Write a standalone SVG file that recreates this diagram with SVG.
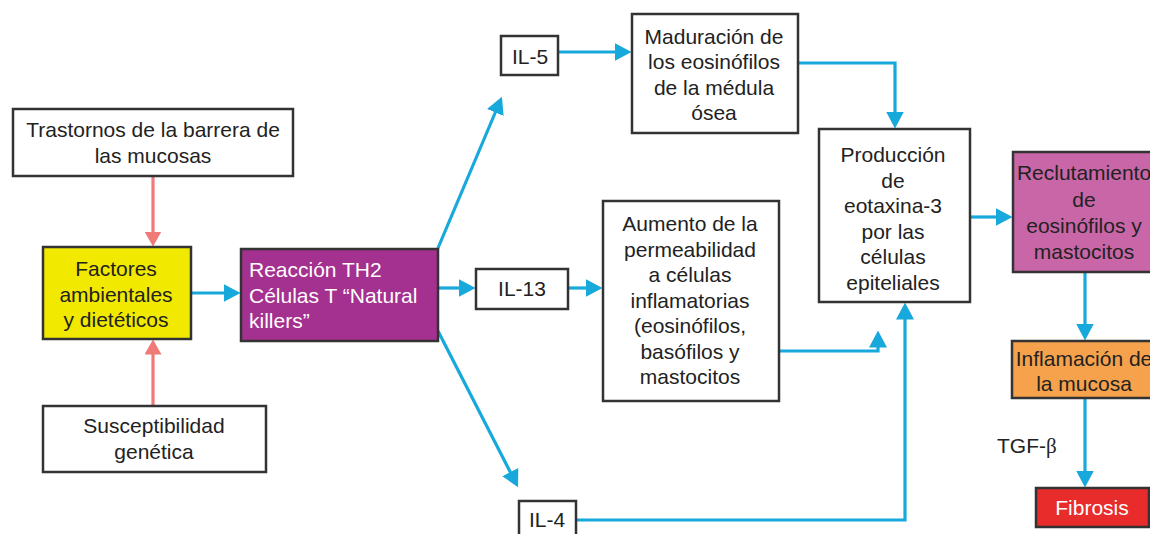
<svg xmlns="http://www.w3.org/2000/svg" width="1150" height="534" viewBox="0 0 1150 534">
<style>
  .box { stroke: #333333; stroke-width: 2.5; }
  .w { fill: #ffffff; }
  .t { font-family: "Liberation Sans", Arial, sans-serif; font-size: 21px; fill: #222222; text-anchor: middle; }
  .tw { fill: #ffffff; }
  .blue { fill: none; stroke: #17a8dc; stroke-width: 3.2; }
  .red { fill: none; stroke: #f07a78; stroke-width: 3.2; }
</style>
<defs>
  <marker id="ab" markerUnits="userSpaceOnUse" markerWidth="17" markerHeight="18" viewBox="0 0 17 18" refX="0.5" refY="9" orient="auto">
    <path d="M0,0 L17,9 L0,18 z" fill="#17a8dc"/>
  </marker>
  <marker id="ar" markerUnits="userSpaceOnUse" markerWidth="15" markerHeight="17" viewBox="0 0 15 17" refX="0.5" refY="8.5" orient="auto">
    <path d="M0,0 L15,8.5 L0,17 z" fill="#f07a78"/>
  </marker>
</defs>

<g id="connectors">
  <path class="red" d="M153,176 V232" marker-end="url(#ar)"/>
  <path class="red" d="M153,406 V354" marker-end="url(#ar)"/>
  <path class="blue" d="M191,293 H224" marker-end="url(#ab)"/>
  <path class="blue" d="M438,248 L495.5,112" marker-end="url(#ab)"/>
  <path class="blue" d="M438,288 H459" marker-end="url(#ab)"/>
  <path class="blue" d="M438,331 L510.5,472.5" marker-end="url(#ab)"/>
  <path class="blue" d="M558,52 H615" marker-end="url(#ab)"/>
  <path class="blue" d="M798,63 H895 V112" marker-end="url(#ab)"/>
  <path class="blue" d="M568,288 H586" marker-end="url(#ab)"/>
  <path class="blue" d="M779,351 H878 V347" marker-end="url(#ab)"/>
  <path class="blue" d="M576,520 H905 V319" marker-end="url(#ab)"/>
  <path class="blue" d="M970,217 H996" marker-end="url(#ab)"/>
  <path class="blue" d="M1085,272 V324" marker-end="url(#ab)"/>
  <path class="blue" d="M1085,398 V471" marker-end="url(#ab)"/>
</g>

<g id="trastornos">
  <rect class="box w" x="13" y="109" width="280" height="67"/>
  <text class="t"><tspan x="153" y="137">Trastornos de la barrera de</tspan><tspan x="153" y="163">las mucosas</tspan></text>
</g>
<g id="factores">
  <rect class="box" fill="#f1e900" x="43" y="247" width="148" height="92"/>
  <text class="t"><tspan x="116" y="276">Factores</tspan><tspan x="116" y="301.5">ambientales</tspan><tspan x="116" y="327">y dietéticos</tspan></text>
</g>
<g id="susceptibilidad">
  <rect class="box w" x="43" y="406" width="223" height="66"/>
  <text class="t"><tspan x="154" y="433">Susceptibilidad</tspan><tspan x="154" y="459">genética</tspan></text>
</g>
<g id="reaccion">
  <rect class="box" fill="#a4308f" x="241" y="249" width="197" height="92"/>
  <text class="t tw" style="text-anchor:start"><tspan x="249" y="277">Reacción TH2</tspan><tspan x="249" y="303">Células T “Natural</tspan><tspan x="249" y="328">killers”</tspan></text>
</g>
<g id="il5">
  <rect class="box w" x="501" y="36" width="57" height="39"/>
  <text class="t" x="530" y="64">IL-5</text>
</g>
<g id="maduracion">
  <rect class="box w" x="632" y="14" width="166" height="119"/>
  <text class="t"><tspan x="714" y="44">Maduración de</tspan><tspan x="714" y="69">los eosinófilos</tspan><tspan x="714" y="94.5">de la médula</tspan><tspan x="714" y="120">ósea</tspan></text>
</g>
<g id="il13">
  <rect class="box w" x="476" y="269" width="92" height="40"/>
  <text class="t" x="522" y="296">IL-13</text>
</g>
<g id="aumento">
  <rect class="box w" x="603" y="201" width="176" height="200"/>
  <text class="t"><tspan x="690" y="231">Aumento de la</tspan><tspan x="690" y="256.5">permeabilidad</tspan><tspan x="690" y="282">a células</tspan><tspan x="690" y="307.5">inflamatorias</tspan><tspan x="690" y="333">(eosinófilos,</tspan><tspan x="690" y="358.5">basófilos y</tspan><tspan x="690" y="384">mastocitos</tspan></text>
</g>
<g id="il4">
  <rect class="box w" x="519" y="501" width="57" height="45"/>
  <text class="t" x="547" y="527">IL-4</text>
</g>
<g id="produccion">
  <rect class="box w" x="819" y="129" width="151" height="173"/>
  <text class="t"><tspan x="893" y="162">Producción</tspan><tspan x="893" y="187.5">de</tspan><tspan x="893" y="213">eotaxina-3</tspan><tspan x="893" y="238.5">por las</tspan><tspan x="893" y="264">células</tspan><tspan x="893" y="289.5">epiteliales</tspan></text>
</g>
<g id="reclutamiento">
  <rect class="box" fill="#c966a7" x="1013" y="152" width="150" height="120"/>
  <text class="t"><tspan x="1084" y="180">Reclutamiento</tspan><tspan x="1084" y="207">de</tspan><tspan x="1084" y="233">eosinófilos y</tspan><tspan x="1084" y="258.5">mastocitos</tspan></text>
</g>
<g id="inflamacion">
  <rect class="box" fill="#f6a24c" x="1012" y="341" width="150" height="57"/>
  <text class="t"><tspan x="1084" y="366">Inflamación de</tspan><tspan x="1084" y="391">la mucosa</tspan></text>
</g>
<g id="fibrosis">
  <rect class="box" fill="#e82b2b" x="1036" y="488" width="113" height="39"/>
  <text class="t tw" x="1092" y="515">Fibrosis</text>
</g>
<g id="tgf">
  <text class="t" style="text-anchor:start" x="997" y="453">TGF-<tspan style="font-family:'Liberation Serif', serif">β</tspan></text>
</g>
</svg>
